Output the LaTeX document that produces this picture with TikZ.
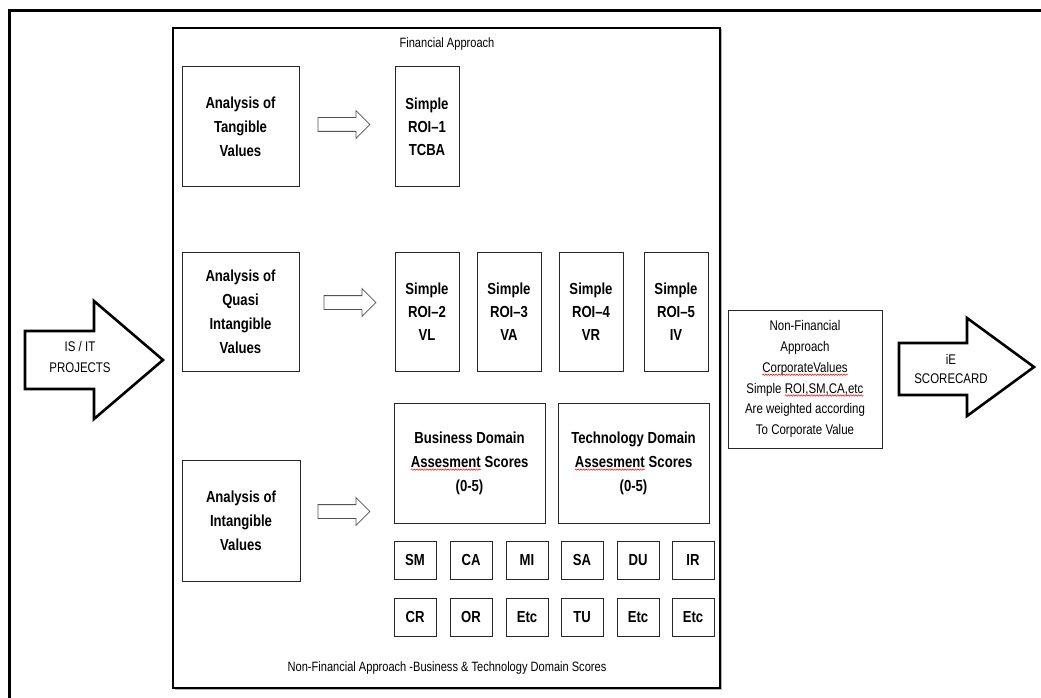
\documentclass[tikz,border=0pt]{standalone}
\usepackage{fontspec}
\setmainfont{Liberation Sans}[FakeStretch=0.82]
\usepackage{xcolor}
\usetikzlibrary{positioning,calc,shapes.arrows,shadows,decorations.pathmorphing}
\newcommand{\spellerr}[1]{\tikz[baseline=(sw.base)]{\node[shape=rectangle, draw=none, fill=none, inner sep=0pt,
    outer sep=0pt, minimum width=0pt, minimum height=0pt, align=left] (sw) {#1};
  \draw[red, line width=0.5pt, decorate, decoration={snake, amplitude=0.7pt, segment length=2.6pt}]
    ($(sw.base west)+(0,-2.5pt)$) -- ($(sw.base east)+(0,-2.5pt)$);}}

\begin{document}
\begin{tikzpicture}[x=1pt, y=-1pt,
  frame/.style={line width=3pt},
  bigarrow/.style={line width=2.6pt, line join=miter, fill=white},
  abox/.style={draw=black!85, line width=1pt, align=center, font=\bfseries\fontsize{16}{24}\selectfont,
               minimum width=117pt, minimum height=119pt, inner sep=0pt},
  rbox/.style={draw=black!85, line width=1pt, align=center, font=\bfseries\fontsize{16}{23}\selectfont,
               minimum width=64pt, minimum height=119pt, inner sep=0pt},
  dbox/.style={draw=black!85, line width=1pt, align=center, font=\bfseries\fontsize{16}{24}\selectfont,
               minimum width=151pt, minimum height=120pt, inner sep=0pt},
  sbox/.style={draw=black!85, line width=1pt, font=\bfseries\fontsize{16}{20}\selectfont,
               minimum width=42pt, minimum height=38pt, inner sep=0pt},
  lbl/.style={font=\fontsize{13.5}{16}\selectfont, align=center},
  harrow/.style={single arrow, draw=gray!65!black, line width=0.8pt, fill=white,
                 minimum height=52pt, minimum width=27pt, inner xsep=0pt, inner ysep=6.5pt,
                 single arrow head extend=7pt, anchor=tail}]
\useasboundingbox (0,0) rectangle (1041,698);

% outer frame, open to the right and below
\draw[frame] (9,710) -- (9,11) -- (1050,11);

% inner approach box
\draw[line width=2.5pt, fill=white, drop shadow={shadow xshift=1.5pt, shadow yshift=-1.5pt, opacity=0.6}]
  (173,28) rectangle (720,688);
\node[lbl] (fin) at (447,44) {Financial Approach};
\node[lbl] (nonfin) at (447,668) {Non-Financial Approach -Business \& Technology Domain Scores};

% financial rows
\node[abox] (tang) at (240.5,126.5) {Analysis of\\Tangible\\Values};
\node[rbox, right=95pt of tang] (roi1) {Simple\\ROI--1\\TCBA};

\node[abox] (quasi) at (240.5,311.5) {Analysis of\\Quasi\\Intangible\\Values};
\node[rbox, right=95pt of quasi] (roi2) {Simple\\ROI--2\\VL};
\node[rbox, right=17pt of roi2] (roi3) {Simple\\ROI--3\\VA};
\node[rbox, right=17pt of roi3] (roi4) {Simple\\ROI--4\\VR};
\node[rbox, right=20pt of roi4] (roi5) {Simple\\ROI--5\\IV};

% non-financial row
\node[abox, minimum width=118pt, minimum height=121pt] (intang) at (241,520.5) {Analysis of\\Intangible\\Values};
\node[dbox] (bus) at (469.5,463) {Business Domain\\\spellerr{Assesment} Scores\\(0-5)};
\node[dbox, right=12pt of bus] (tech) {Technology Domain\\\spellerr{Assesment} Scores\\(0-5)};

\node[sbox] (sm) at (415,560) {SM};
\node[sbox, right=13pt of sm] (ca) {CA};
\node[sbox, right=13pt of ca] (mi) {MI};
\node[sbox, right=12pt of mi] (sa) {SA};
\node[sbox, right=13pt of sa] (du) {DU};
\node[sbox, right=12pt of du] (ir) {IR};
\node[sbox, below=18pt of sm] (cr) {CR};
\node[sbox, below=18pt of ca] (or) {OR};
\node[sbox, below=18pt of mi] (etca) {Etc};
\node[sbox, below=18pt of sa] (tu) {TU};
\node[sbox, below=18pt of du] (etcb) {Etc};
\node[sbox, below=18pt of ir] (etcc) {Etc};

% hollow arrows
\node[harrow] (ha) at ($(tang.east)+(18,-2)$) {};
\node[harrow] (hb) at ($(quasi.east)+(24,-9)$) {};
\node[harrow] (hc) at ($(intang.east)+(17,-9)$) {};

% weighting box
\node[draw=black!85, line width=1pt, minimum width=154pt, minimum height=138pt, align=center,
      font=\fontsize{14}{20.8}\selectfont] (corp) at (805,379)
  {Non-Financial\\Approach\\\spellerr{CorporateValues}\\Simple \spellerr{ROI,SM,CA,etc}\\Are weighted according\\To Corporate Value};

% input and output arrows
\draw[bigarrow] (25,331) -- (94,331) -- (94,301) -- (163,360) -- (94,419) -- (94,389) -- (25,389) -- cycle;
\node[lbl, font=\fontsize{14}{21}\selectfont] (isit) at (80,357) {IS / IT\\PROJECTS};
\draw[bigarrow] (899,343) -- (967,343) -- (967,318) -- (1034,367) -- (967,416) -- (967,395) -- (899,395) -- cycle;
\node[lbl, font=\fontsize{14}{19}\selectfont] (iesc) at (951,369) {iE\\SCORECARD};
\end{tikzpicture}
\end{document}
